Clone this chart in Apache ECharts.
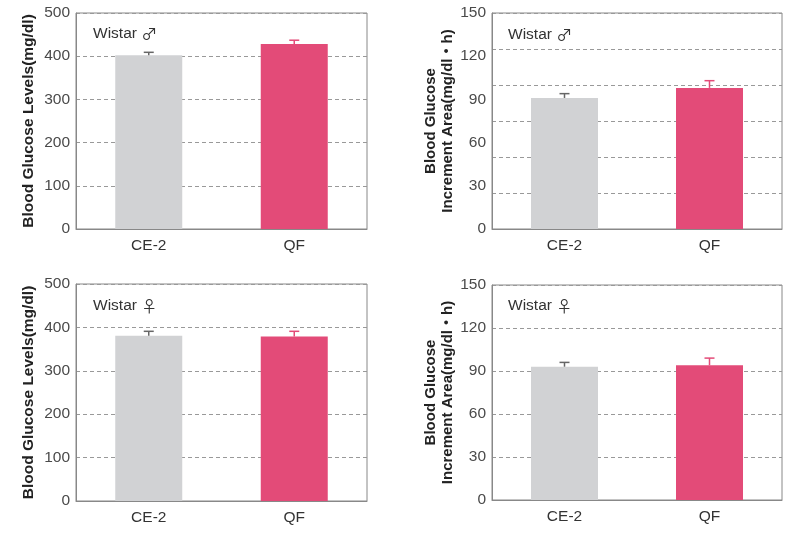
<!DOCTYPE html>
<html><head><meta charset="utf-8">
<script src="https://cdn.jsdelivr.net/npm/echarts@6/dist/echarts.min.js"></script>
<style>html,body{margin:0;padding:0;background:#fff}#c{width:800px;height:534px}</style>
</head><body><div id="c"></div>
<script>
const categories = ['CE-2', 'QF'];
const maleLevels = [402, 428];
const maleLevelsErr = [7, 9];
const maleArea = [91, 98];
const maleAreaErr = [3, 5];
const femaleLevels = [381, 379];
const femaleLevelsErr = [10, 12];
const femaleArea = [93, 94];
const femaleAreaErr = [3, 5];
const panelStrain = ['Wistar', 'Wistar', 'Wistar', 'Wistar'];
const panelSex = ['♂', '♂', '♀', '♀'];
const levelsName = 'Blood Glucose Levels(mg/dl)';
const areaName = 'Blood Glucose\nIncrement Area(mg/dl・h)';

const FONT = '"Liberation Sans", "DejaVu Sans", "Noto Sans CJK JP", sans-serif';
const SYM_FONT = '"Noto Sans CJK JP", "DejaVu Sans", sans-serif';
const barColors = ['#d1d2d4', '#e34b78'];
const errColors = ['#666666', '#e34b78'];

const chart = echarts.init(document.getElementById('c'));

const grids = [
  {left: 76, top: 13, width: 291, height: 216},
  {left: 492, top: 13, width: 290, height: 216},
  {left: 76, top: 284, width: 291, height: 217},
  {left: 492, top: 285, width: 290, height: 215}
].map(g => Object.assign({show: true, borderColor: '#888', borderWidth: 1, backgroundColor: '#fff'}, g));

const xAxes = grids.map((g, i) => ({
  type: 'category', gridIndex: i, data: categories,
  axisLine: {lineStyle: {color: '#888'}}, axisTick: {show: false},
  axisLabel: {color: '#333', fontSize: 15.5, fontFamily: FONT, margin: 9}
}));

const dashed = {lineStyle: {color: '#999', type: [4, 3], width: 1}};
function yAx(i, max, interval, name, gap, split, fs) {
  return {
    type: 'value', gridIndex: i, min: 0, max: max, interval: interval,
    name: name, nameLocation: 'middle', nameGap: gap,
    nameTextStyle: {color: '#222', fontSize: fs, fontWeight: 'bold', fontFamily: FONT, lineHeight: 17},
    axisLine: {show: true, lineStyle: {color: '#888'}}, axisTick: {show: false},
    axisLabel: {color: '#4a4a4a', fontSize: 15.5, fontFamily: FONT, margin: 6},
    splitLine: split ? Object.assign({show: true}, dashed) : {show: false}
  };
}
const yAxes = [
  yAx(0, 500, 100, levelsName, 39, true, 15.5),
  yAx(1, 150, 30, areaName, 33, false, 15),
  yAx(2, 500, 100, levelsName, 39, true, 15.5),
  yAx(3, 150, 30, areaName, 33, true, 15),
  // hidden axis carrying the top-right panel's gridlines
  {type: 'value', gridIndex: 1, min: 0, max: 150, interval: 25,
   axisLine: {show: false}, axisTick: {show: false}, axisLabel: {show: false},
   splitLine: Object.assign({show: true}, dashed)}
];

function barSeries(i, vals) {
  return {
    type: 'bar', xAxisIndex: i, yAxisIndex: i, barWidth: 67,
    data: vals.map((v, k) => ({value: v, itemStyle: {color: barColors[k]}})),
    z: 3
  };
}
function errSeries(i, vals, errs) {
  return {
    type: 'custom', xAxisIndex: i, yAxisIndex: i, z: 4,
    data: vals.map((v, k) => [k, v, v + errs[k]]),
    renderItem: function (params, api) {
      const k = api.value(0);
      const p0 = api.coord([k, api.value(1)]);
      const p1 = api.coord([k, api.value(2)]);
      const c = errColors[k];
      const st = {stroke: c, lineWidth: 1.5};
      return {type: 'group', children: [
        {type: 'line', shape: {x1: p0[0], y1: p0[1], x2: p1[0], y2: p1[1]}, style: st},
        {type: 'line', shape: {x1: p1[0] - 5, y1: p1[1], x2: p1[0] + 5, y2: p1[1]}, style: st}
      ]};
    }
  };
}

const titlePos = [[93, 26], [508, 27], [93, 298], [508, 298]];
const titles = panelStrain.map((t, i) => ({
  text: t + ' {s|' + panelSex[i] + '}', left: titlePos[i][0], top: titlePos[i][1], padding: 0,
  textStyle: {color: '#333', fontSize: 15.5, fontWeight: 'normal', fontFamily: FONT,
    rich: {s: {fontFamily: SYM_FONT, fontSize: 16, color: '#333'}}}
}));

chart.setOption({
  animation: false,
  title: titles,
  grid: grids,
  xAxis: xAxes,
  yAxis: yAxes,
  series: [
    barSeries(0, maleLevels), errSeries(0, maleLevels, maleLevelsErr),
    barSeries(1, maleArea), errSeries(1, maleArea, maleAreaErr),
    barSeries(2, femaleLevels), errSeries(2, femaleLevels, femaleLevelsErr),
    barSeries(3, femaleArea), errSeries(3, femaleArea, femaleAreaErr)
  ]
});
</script></body></html>
